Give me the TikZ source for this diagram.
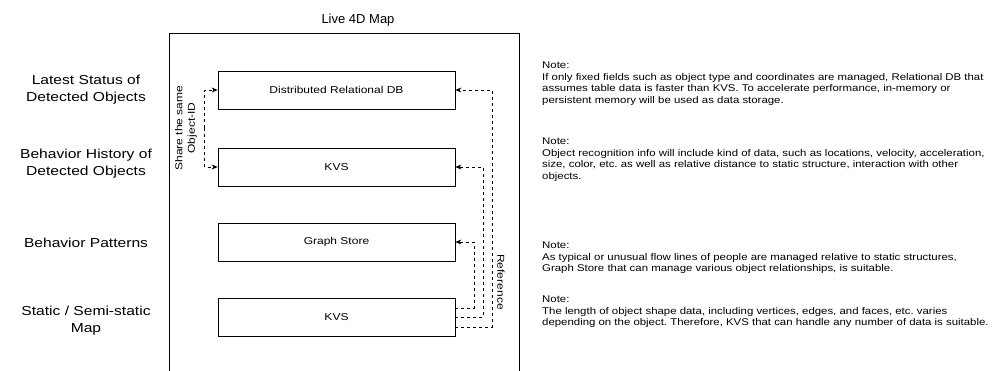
\documentclass[tikz,border=0pt]{standalone}
\usepackage{fontspec}
\setmainfont{Liberation Sans}
\newfontfamily\widefont[FakeStretch=1.2]{Liberation Sans}
\newfontfamily\notefont[FakeStretch=1.17]{Liberation Sans}
\usetikzlibrary{arrows.meta}
\frenchspacing
\begin{document}
\begin{tikzpicture}[x=1pt,y=-1pt,
  dbbox/.style={draw, line width=0.8pt, minimum width=237pt, minimum height=38pt, inner sep=0pt, font=\widefont\fontsize{10}{12}\selectfont},
  sidelabel/.style={align=center, font=\widefont\fontsize{13}{17}\selectfont},
  notetext/.style={align=left, anchor=north west, inner sep=0pt, font=\notefont\fontsize{9.75}{11.7}\selectfont},
  refline/.style={dash pattern=on 3pt off 3pt, line width=0.7pt, -{Stealth[length=6pt,width=5pt]}},
  rotlabel/.style={align=center, font=\widefont\fontsize{10}{12.5}\selectfont}]
\useasboundingbox (0,0) rectangle (992,371);
% frame
\draw[line width=0.8pt] (169.5,372) -- (169.5,33) -- (519,33) -- (519,372);
\node[font=\fontsize{13}{15}\selectfont] (title) at (358,20) {Live 4D Map};
% boxes
\node[dbbox] (drdb) at (336.5,90) {Distributed Relational DB};
\node[dbbox] (kvsa) at (336.5,167) {KVS};
\node[dbbox] (graph) at (336.5,242) {Graph Store};
\node[dbbox] (kvsb) at (336.5,317) {KVS};
% left labels
\node[sidelabel] (l1) at (86,90) {Latest Status of\\Detected Objects};
\node[sidelabel] (l2) at (86,164) {Behavior History of\\Detected Objects};
\node[sidelabel] (l3) at (86,242.5) {Behavior Patterns};
\node[sidelabel] (l4) at (86,321) {Static / Semi-static\\Map};
% share arrows
\coordinate (sl) at (204.5,128);
\draw[refline] (sl) |- (drdb.west);
\draw[refline] (sl) |- (kvsa.west);
\node[rotlabel, rotate=90] (share) at (186,128) {Share the same\\Object-ID};
% reference arrows
\coordinate (r1) at (474,308);
\coordinate (r2) at (483,317);
\coordinate (r3) at (492,327);
\draw[refline] (kvsb.east |- r1) -- (r1) |- (graph.east);
\draw[refline] (kvsb.east |- r2) -- (r2) |- (kvsa.east);
\draw[refline] (kvsb.east |- r3) -- (r3) |- (drdb.east);
\node[rotlabel, rotate=-90] (ref) at (501,282) {Reference};
% notes
\node[notetext] (n1) at (542,61.5) {Note:\\If only fixed fields such as object type and coordinates are managed, Relational DB that\\assumes table data is faster than KVS. To accelerate performance, in-memory or\\persistent memory will be used as data storage.};
\node[notetext] (n2) at (542,137.5) {Note:\\Object recognition info will include kind of data, such as locations, velocity, acceleration,\\size, color, etc. as well as relative distance to static structure, interaction with other\\objects.};
\node[notetext] (n3) at (542,241.5) {Note:\\As typical or unusual flow lines of people are managed relative to static structures,\\Graph Store that can manage various object relationships, is suitable.};
\node[notetext] (n4) at (542,295.5) {Note:\\The length of object shape data, including vertices, edges, and faces, etc. varies\\depending on the object. Therefore, KVS that can handle any number of data is suitable.};
\end{tikzpicture}
\end{document}
